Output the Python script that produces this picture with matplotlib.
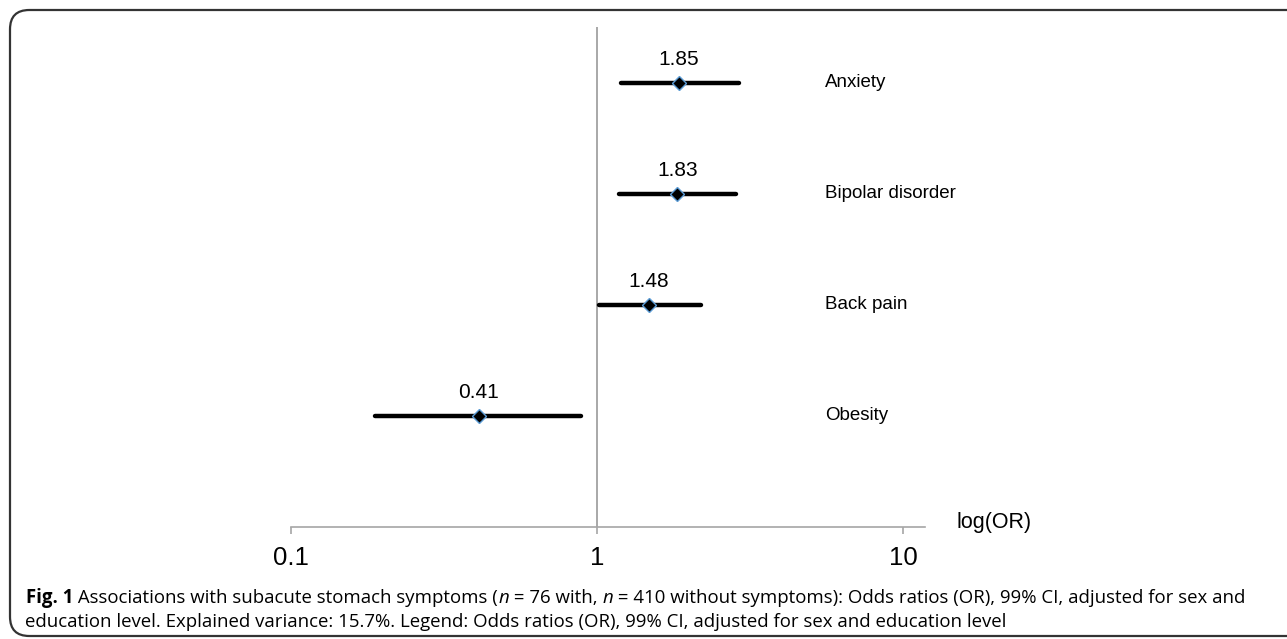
import matplotlib
matplotlib.use("Agg")
import matplotlib.pyplot as plt
from matplotlib.patches import FancyBboxPatch

# Datos del gráfico (OR con IC 99%)
categorias = ["Anxiety", "Bipolar disorder", "Back pain", "Obesity"]
odds_ratio = [1.85, 1.83, 1.48, 0.41]
ic_inferior = [1.20, 1.18, 1.015, 0.188]
ic_superior = [2.91, 2.84, 2.19, 0.887]
filas = [4, 3, 2, 1]
ticks_x = [0.1, 1, 10]
etiquetas_x = ["0.1", "1", "10"]

W, H = 1287, 639
fig = plt.figure(figsize=(W / 100, H / 100), dpi=100)

# Ejes colocados en pixeles del original
ax = fig.add_axes([291 / W, (H - 527) / H, (925 - 291) / W, 500 / H])
ax.set_xscale("log")
ax.set_xlim(0.1, 11.8)
ax.set_ylim(0, 4.5)

for s in ["top", "right", "left"]:
    ax.spines[s].set_visible(False)
ax.spines["bottom"].set_color("#a6a6a6")
ax.spines["bottom"].set_linewidth(1.2)
ax.set_yticks([])
ax.set_xticks(ticks_x)
ax.set_xticklabels(etiquetas_x, fontsize=18.5, family="Liberation Sans")
ax.xaxis.set_minor_locator(matplotlib.ticker.NullLocator())
ax.tick_params(axis="x", direction="out", length=5, width=1.2, color="#a6a6a6", pad=9)

# Línea de referencia en OR = 1
ax.axvline(1, ymin=0, ymax=1, color="#999999", lw=1.2, zorder=1)

for i in range(len(categorias)):
    ax.plot([ic_inferior[i], ic_superior[i]], [filas[i], filas[i]], color="black",
            lw=3.2, solid_capstyle="round", zorder=2)
    ax.plot(odds_ratio[i], filas[i], marker="D", markersize=7, color="black",
            markeredgecolor="#5b9bd5", markeredgewidth=1, zorder=3)
    ax.annotate(f"{odds_ratio[i]:.2f}", (odds_ratio[i], filas[i]), xytext=(0, 10),
                textcoords="offset points", ha="center", va="bottom",
                fontsize=15, family="Liberation Sans")
    ax.annotate(categorias[i], (825 / W, filas[i]), xycoords=("figure fraction", "data"),
                ha="left", va="center", fontsize=13.5, family="Liberation Sans")

fig.text(957 / W, (H - 528) / H, "log(OR)", ha="left", va="baseline",
         fontsize=15.5, family="Liberation Sans")

# Marco redondeado
marco = FancyBboxPatch((10 / W, 3 / H), 1300 / W, (H - 13) / H,
                       boxstyle="round,pad=0,rounding_size=0.015",
                       transform=fig.transFigure, fill=False, edgecolor="#333333",
                       lw=1.6, clip_on=False, mutation_aspect=W / H)
fig.patches.append(marco)

# Pie de figura con partes en negrita y cursiva
fuente = "Open Sans"
tam = 13.4
renderer = fig.canvas.get_renderer()


def linea(partes, x0, y0):
    x = x0
    for txt, peso, estilo in partes:
        t = fig.text(x, y0, txt, fontsize=tam, family=fuente, weight=peso,
                     style=estilo, ha="left", va="baseline", transform=None)
        x = t.get_window_extent(renderer).x1


linea([("Fig. 1", "bold", "normal"),
       (" Associations with subacute stomach symptoms (", "normal", "normal"),
       ("n", "normal", "italic"),
       (" = 76 with, ", "normal", "normal"),
       ("n", "normal", "italic"),
       (" = 410 without symptoms): Odds ratios (OR), 99% CI, adjusted for sex and", "normal", "normal")],
      26, H - 603)
linea([("education level. Explained variance: 15.7%. Legend: Odds ratios (OR), 99% CI, adjusted for sex and education level",
        "normal", "normal")], 25, H - 627)

fig.savefig("out.png", dpi=100)
